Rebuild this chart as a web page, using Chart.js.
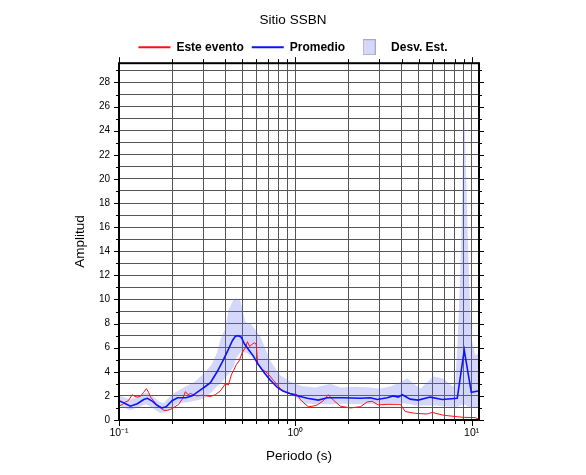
<!DOCTYPE html>
<html>
<head>
<meta charset="utf-8">
<script src="https://cdn.jsdelivr.net/npm/chart.js@4/dist/chart.umd.min.js"></script>
<style>
  body { margin: 0; background: #fff; }
  #wrap { width: 586px; height: 475px; }
</style>
</head>
<body>
<div id="wrap"><canvas id="chart" width="586" height="475"></canvas></div>
<script>
/* Este evento (red) */
const periodRed = [0.100,0.105,0.109,0.113,0.119,0.123,0.127,0.132,0.138,0.143,0.147,0.151,0.157,0.163,0.172,0.180,0.188,0.197,0.205,0.218,
  0.230,0.238,0.246,0.254,0.275,0.300,0.330,0.352,0.375,0.401,0.417,0.435,0.446,0.463,0.480,0.500,0.521,0.535,0.550,0.571,
  0.586,0.600,0.612,0.650,0.694,0.750,0.822,0.880,0.937,1.026,1.067,1.12,1.185,1.26,1.332,1.441,1.537,1.642,1.799,2.049,
  2.334,2.558,2.73,2.95,3.32,3.94,4.20,4.79,5.60,5.97,6.89,8.28,9.07,10.47,11.0]
const ampRed = [1.15,1.3,1.5,1.6,2.1,1.95,1.9,1.95,2.3,2.6,2.3,1.9,1.6,1.3,1.0,0.8,0.8,0.9,1.05,1.3,
  1.8,2.35,2.1,2.2,2.0,2.05,1.95,2.1,2.4,3.0,2.9,3.8,4.1,4.6,4.9,5.6,6.0,6.5,6.1,6.3,
  6.4,6.3,4.6,4.2,3.9,3.3,2.6,2.3,2.2,2.1,1.7,1.4,1.1,1.15,1.25,1.6,2.1,1.65,1.15,1.0,
  1.1,1.5,1.55,1.25,1.3,1.3,0.7,0.55,0.5,0.63,0.4,0.27,0.22,0.2,0.05]

/* Promedio (blue) */
const periodAvg = [0.100,0.109,0.116,0.127,0.138,0.145,0.155,0.165,0.175,0.185,0.200,0.215,0.240,0.260,0.290,0.310,0.330,0.360,0.385,0.412,
  0.440,0.457,0.475,0.494,0.515,0.545,0.578,0.617,0.668,0.722,0.791,0.850,0.930,1.0,1.067,1.169,1.35,1.518,1.87,2.334,
  2.66,2.914,3.32,3.59,3.83,4.04,4.48,4.97,5.82,6.80,8.28,9.07,9.95,10.89]
const ampAvg = [1.6,1.35,1.15,1.35,1.7,1.8,1.55,1.2,1.0,1.1,1.6,1.85,1.85,2.0,2.5,2.8,3.1,4.0,4.8,5.7,
  6.6,6.95,7.0,6.85,6.3,5.8,5.3,4.6,3.9,3.3,2.7,2.4,2.2,2.05,1.95,1.8,1.65,1.85,1.85,1.8,
  1.85,1.7,1.85,2.0,1.9,2.1,1.73,1.65,1.9,1.7,1.8,5.8,2.3,2.4]

/* Desv. Est. band */
const periodBand = [0.100,0.116,0.130,0.143,0.155,0.170,0.180,0.195,0.215,0.240,0.270,0.290,0.310,0.335,0.360,0.376,0.401,0.417,0.446,0.463,
  0.488,0.521,0.556,0.600,0.634,0.680,0.722,0.822,0.937,1.0,1.1,1.3,1.578,1.8,2.2,2.66,3.0,3.5,3.94,4.31,
  4.8,5.11,6.06,6.89,7.86,8.06,8.28,8.61,9.07,9.55,9.80,10.06,10.47,11.0]
const bandUpper = [2.05,1.7,2.0,2.3,2.0,1.5,1.4,2.0,2.4,2.8,3.2,3.6,4.0,4.6,5.6,6.7,7.6,9.1,10.0,10.1,
  9.9,8.1,8.0,7.4,6.9,5.8,4.9,3.7,3.2,3.0,2.8,2.7,3.0,2.7,2.75,2.7,2.6,2.8,3.15,3.45,
  2.9,2.6,3.6,3.45,2.75,3.0,6.0,12.0,26.3,14.0,9.0,6.5,5.4,5.5]
const bandLower = [1.2,0.8,1.1,1.3,1.0,0.6,0.6,0.9,1.4,1.45,1.6,1.7,1.9,2.3,2.8,3.0,3.5,3.8,4.4,5.2,
  5.6,5.6,5.4,4.8,4.4,3.6,3.15,2.5,2.1,1.9,1.4,1.3,1.3,1.35,1.3,1.35,1.3,1.35,1.4,1.35,
  1.2,1.2,1.2,1.15,1.1,1.1,1.1,1.2,1.3,1.1,1.0,1.0,1.0,1.0]

/* Axis ticks */
const xDecades = [0.1, 1, 10]
const xDecadeLabels = ['10⁻¹', '10⁰', '10¹']
const xMin = 0.1, xMax = 11
const yMin = 0, yMax = 29.6

const bandColor = 'rgba(100,110,240,0.28)'

// gridline positions: 1..9 times each decade, up to the axis max
let xTickValues = []
xDecades.forEach(d => {
    for (let k = 1; k <= 9; k++) {
        let v = +(d * k).toPrecision(3)
        if (v <= xMax) xTickValues.push(v)
    }
})

function toPoints(xs, ys) {
    return xs.map((v, i) => ({ x: v, y: ys[i] }))
}

// small swatch for the band in the legend
let swatch = document.createElement('canvas')
swatch.width = 13
swatch.height = 16
let sctx = swatch.getContext('2d')
sctx.fillStyle = '#d6d8fa'
sctx.fillRect(0, 0, 13, 16)
sctx.strokeStyle = '#a8aac8'
sctx.lineWidth = 1
sctx.strokeRect(0.5, 0.5, 12, 15)

// frame + outward ticks on all four sides
const framePlugin = {
    id: 'frame',
    afterDraw(chart) {
        let { ctx, chartArea: a, scales } = chart
        let x = scales.x, y = scales.y
        ctx.save()
        ctx.strokeStyle = '#000'
        ctx.lineWidth = 1
        ctx.beginPath()
        y.ticks.forEach(t => {
            let py = Math.round(y.getPixelForValue(t.value)) + 0.5
            let len = t.value % 2 === 0 ? 5 : 3
            ctx.moveTo(a.left - len, py); ctx.lineTo(a.left, py)
            ctx.moveTo(a.right, py); ctx.lineTo(a.right + len, py)
        })
        x.ticks.forEach(t => {
            let px = Math.round(x.getPixelForValue(t.value)) + 0.5
            let len = xDecades.includes(t.value) ? 6 : 4
            ctx.moveTo(px, a.bottom); ctx.lineTo(px, a.bottom + len)
            ctx.moveTo(px, a.top); ctx.lineTo(px, a.top - len)
        })
        ctx.stroke()
        ctx.lineWidth = 2
        ctx.strokeRect(a.left, a.top, a.right - a.left, a.bottom - a.top)
        ctx.restore()
    }
}

Chart.defaults.font.family = '"Liberation Sans", Arial, sans-serif'
Chart.defaults.color = '#000'

let ctx = document.querySelector('#chart').getContext('2d')
let chart = new Chart(ctx, {
    type: 'line',
    data: {
        datasets: [
            {
                label: 'upper',
                data: toPoints(periodBand, bandUpper),
                borderWidth: 0,
                pointRadius: 0,
                backgroundColor: bandColor,
                fill: '+1',
                order: 3
            },
            {
                label: 'lower',
                data: toPoints(periodBand, bandLower),
                borderWidth: 0,
                pointRadius: 0,
                fill: false,
                order: 4
            },
            {
                label: 'Este evento',
                data: toPoints(periodRed, ampRed),
                borderColor: '#ff1010',
                borderWidth: 1,
                pointRadius: 0,
                fill: false,
                order: 1
            },
            {
                label: 'Promedio',
                data: toPoints(periodAvg, ampAvg),
                borderColor: '#0a14ff',
                borderWidth: 1.6,
                pointRadius: 0,
                fill: false,
                order: 0
            }
        ]
    },
    options: {
        responsive: false,
        animation: false,
        devicePixelRatio: 1,
        layout: { padding: { left: 0, right: 0, top: 2, bottom: 0 } },
        plugins: {
            title: {
                display: true,
                text: 'Sitio SSBN',
                font: { size: 13.5, weight: 'normal' },
                padding: { top: 10, bottom: 5 }
            },
            legend: {
                labels: {
                    usePointStyle: true,
                    pointStyleWidth: 32,
                    padding: 8,
                    font: { size: 12, weight: 'bold' },
                    generateLabels: () => [
                        { text: 'Este evento', pointStyle: 'line', strokeStyle: '#ff1010', fillStyle: '#ff1010', lineWidth: 2, datasetIndex: 2 },
                        { text: 'Promedio', pointStyle: 'line', strokeStyle: '#0a14ff', fillStyle: '#0a14ff', lineWidth: 2, datasetIndex: 3 },
                        { text: 'Desv. Est.', pointStyle: swatch, lineWidth: 0, datasetIndex: 0 }
                    ]
                },
                onClick: () => {}
            },
            tooltip: { enabled: false }
        },
        scales: {
            x: {
                type: 'logarithmic',
                min: xMin,
                max: xMax,
                afterBuildTicks: scale => {
                    scale.ticks = xTickValues.map(v => ({ value: v, major: xDecades.includes(v) }))
                },
                afterFit: scale => { scale.height = 55 },
                grid: { color: '#555', lineWidth: 1, drawTicks: false },
                border: { display: false },
                ticks: {
                    autoSkip: false,
                    maxRotation: 0,
                    padding: 7,
                    font: { size: 10.5 },
                    callback: v => {
                        let i = xDecades.indexOf(v)
                        return i >= 0 ? xDecadeLabels[i] : ''
                    }
                },
                title: {
                    display: true,
                    text: 'Periodo (s)',
                    font: { size: 13.5 },
                    padding: { top: 0, bottom: 11 }
                }
            },
            y: {
                min: yMin,
                max: yMax,
                afterFit: scale => { scale.width = 119 },
                grid: { color: '#555', lineWidth: 1, drawTicks: false },
                border: { display: false },
                ticks: {
                    stepSize: 1,
                    includeBounds: false,
                    autoSkip: false,
                    padding: 9,
                    font: { size: 10 },
                    callback: v => (v % 2 === 0 ? v : '')
                },
                title: {
                    display: true,
                    text: 'Amplitud',
                    font: { size: 13.5 },
                    padding: { top: 72, bottom: 0 }
                }
            },
            // empty right-hand axis, only to reserve the margin so title/legend centre on the page
            yRight: {
                position: 'right',
                min: yMin,
                max: yMax,
                afterFit: scale => { scale.width = 107 },
                grid: { display: false },
                border: { display: false },
                ticks: { display: false }
            }
        }
    },
    plugins: [framePlugin]
})
</script>
</body>
</html>
